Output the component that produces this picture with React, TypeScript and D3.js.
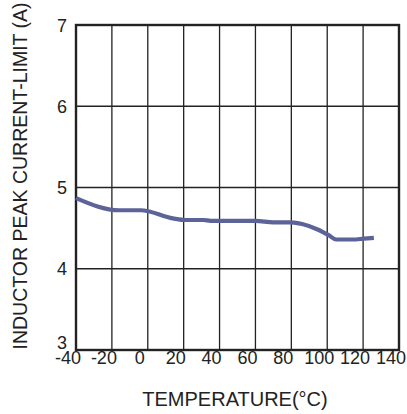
import React from 'react';
import * as d3 from 'd3';

// temperature (°C) vs. inductor peak current limit (A)
const temps = [-40, -16, -4, 14, 21, 31, 35, 60, 70, 80, 86, 95, 101, 105, 116, 120, 126];
const limits = [4.87, 4.72, 4.72, 4.62, 4.6, 4.6, 4.59, 4.59, 4.57, 4.57, 4.55, 4.48, 4.41, 4.36, 4.36, 4.37, 4.38];

const xTicks = [-40, -20, 0, 20, 40, 60, 80, 100, 120, 140];
const yTicks = [3, 4, 5, 6, 7];

const W = 407;
const H = 414;
const margin = { top: 25, right: 8, bottom: 64, left: 76 };
const FONT = 'Liberation Sans, Arial, sans-serif';

export default function App() {
  const x = d3.scaleLinear().domain([-40, 140]).range([margin.left, W - margin.right]);
  const y = d3.scaleLinear().domain([3, 7]).range([H - margin.bottom, margin.top]);

  const line = d3
    .line<number>()
    .x((_, i) => x(temps[i]))
    .y((d) => y(d))
    .curve(d3.curveMonotoneX);

  const x0 = x(-40), x1 = x(140), y0 = y(3), y1 = y(7);

  return (
    <svg width={W} height={H} style={{ position: 'absolute', left: 0, top: 0, background: '#fff' }}>
      {/* grid */}
      {xTicks.map((t) => (
        <line key={'gx' + t} x1={x(t)} x2={x(t)} y1={y1} y2={y0} stroke="#222" strokeWidth={1.3} />
      ))}
      {yTicks.map((t) => (
        <line key={'gy' + t} x1={x0} x2={x1} y1={y(t)} y2={y(t)} stroke="#222" strokeWidth={1.3} />
      ))}
      <rect x={x0} y={y1} width={x1 - x0} height={y0 - y1} fill="none" stroke="#222" strokeWidth={2.4} />

      {/* data */}
      <path d={line(limits) || ''} fill="none" stroke="#5c6398" strokeWidth={4.2} strokeLinejoin="round" />

      {/* y tick labels */}
      {yTicks.map((t) => (
        <text
          key={'ly' + t}
          x={x0 - 9}
          y={t === 3 ? y(t) - 1.5 : y(t) + 6.5}
          textAnchor="end"
          fontFamily={FONT}
          fontSize={18}
          fill="#222"
        >
          {t}
        </text>
      ))}

      {/* x tick labels */}
      {xTicks.map((t) => (
        <text
          key={'lx' + t}
          x={x(t) - 8}
          y={y0 + 13.5}
          textAnchor="middle"
          fontFamily={FONT}
          fontSize={18}
          fill="#222"
        >
          {t}
        </text>
      ))}

      <text x={235} y={406} textAnchor="middle" fontFamily={FONT} fontSize={20} fill="#222">
        TEMPERATURE(°C)
      </text>
      <text
        transform="translate(27,176) rotate(-90)"
        textAnchor="middle"
        fontFamily={FONT}
        fontSize={19.5}
        fill="#222"
      >
        INDUCTOR PEAK CURRENT-LIMIT (A)
      </text>
    </svg>
  );
}
